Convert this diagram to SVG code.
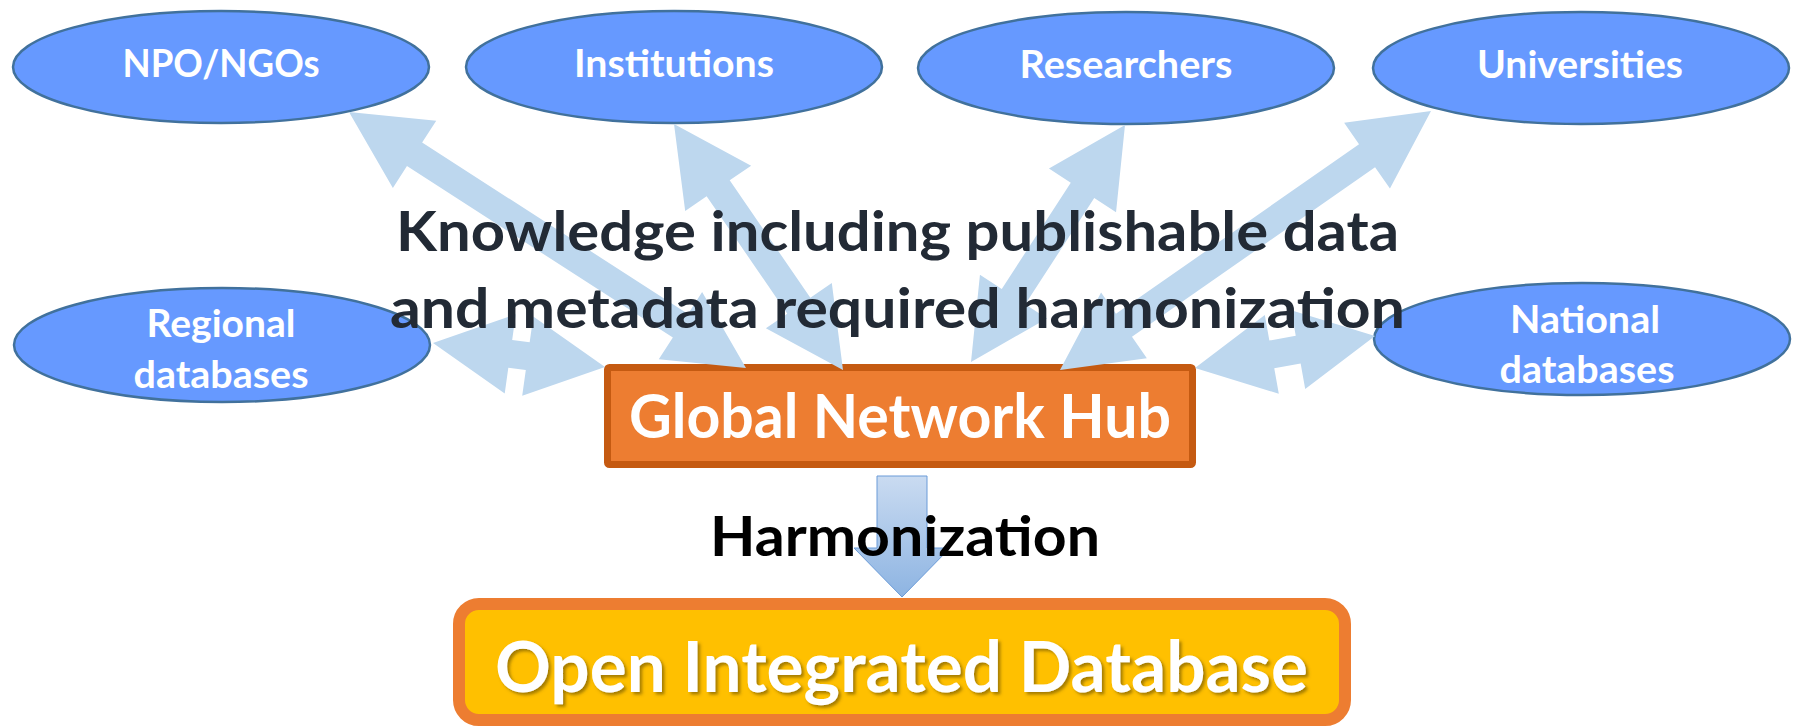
<svg xmlns="http://www.w3.org/2000/svg" width="1797" height="726" viewBox="0 0 1797 726">
  <defs>
    <linearGradient id="harmGrad" x1="0" y1="0" x2="0" y2="1">
      <stop offset="0" stop-color="#CADBF1"/>
      <stop offset="1" stop-color="#8DB4E2"/>
    </linearGradient>
    <filter id="textShadow" x="-5%" y="-20%" width="110%" height="150%">
      <feDropShadow dx="2.5" dy="2.5" stdDeviation="1.8" flood-color="#5a4300" flood-opacity="0.55"/>
    </filter>
  </defs>
  <style>
    .actor { fill: #6699FF; stroke: #41719C; stroke-width: 2.5; }
    .actor-label { font-family: Lato, "Noto Sans", "Liberation Sans", sans-serif; font-weight: 700; font-size: 38px; fill: #FFFFFF; text-anchor: middle; }
    .flow { fill: #BDD7EE; stroke: none; }
    .caption { font-family: Lato, "Noto Sans", "Liberation Sans", sans-serif; font-weight: 700; font-size: 55px; fill: #222A35; text-anchor: middle; }
    .hub-box { fill: #ED7D31; stroke: #C55A11; stroke-width: 7; }
    .hub-label { font-family: Lato, "Noto Sans", "Liberation Sans", sans-serif; font-weight: 700; font-size: 61px; fill: #FFFFFF; text-anchor: middle; }
    .db-box { fill: #FFC000; stroke: #ED7D31; stroke-width: 12; }
    .db-label { font-family: Lato, "Noto Sans", "Liberation Sans", sans-serif; font-weight: 700; font-size: 71px; fill: #FFFFFF; text-anchor: middle; }
    .step-label { font-family: Lato, "Noto Sans", "Liberation Sans", sans-serif; font-weight: 700; font-size: 56px; fill: #000000; text-anchor: middle; }
  </style>

  <rect width="1797" height="726" fill="#FFFFFF"/>

  <!-- data providers -->
  <g id="npo-ngos">
    <ellipse class="actor" cx="221" cy="67" rx="208" ry="56"/>
    <text class="actor-label" x="221" y="77" textLength="197" lengthAdjust="spacingAndGlyphs">NPO/NGOs</text>
  </g>
  <g id="institutions">
    <ellipse class="actor" cx="674" cy="67" rx="208" ry="56"/>
    <text class="actor-label" x="674" y="77" textLength="200" lengthAdjust="spacingAndGlyphs">Institutions</text>
  </g>
  <g id="researchers">
    <ellipse class="actor" cx="1126" cy="68" rx="208" ry="56"/>
    <text class="actor-label" x="1126" y="78" textLength="213" lengthAdjust="spacingAndGlyphs">Researchers</text>
  </g>
  <g id="universities">
    <ellipse class="actor" cx="1581" cy="68" rx="208" ry="56"/>
    <text class="actor-label" x="1580" y="78" textLength="206" lengthAdjust="spacingAndGlyphs">Universities</text>
  </g>
  <g id="regional-databases">
    <ellipse class="actor" cx="222" cy="345" rx="208" ry="57"/>
    <text class="actor-label" x="221" y="337" textLength="149" lengthAdjust="spacingAndGlyphs">Regional</text>
    <text class="actor-label" x="221" y="388" textLength="175" lengthAdjust="spacingAndGlyphs">databases</text>
  </g>
  <g id="national-databases">
    <ellipse class="actor" cx="1582" cy="339" rx="208" ry="56"/>
    <text class="actor-label" x="1585" y="333" textLength="150" lengthAdjust="spacingAndGlyphs">National</text>
    <text class="actor-label" x="1587" y="383" textLength="175" lengthAdjust="spacingAndGlyphs">databases</text>
  </g>

  <!-- hub -->
  <g id="global-network-hub">
    <rect class="hub-box" x="607.5" y="367.5" width="585" height="97" rx="2"/>
    <text class="hub-label" x="900" y="438" textLength="542" lengthAdjust="spacingAndGlyphs">Global Network Hub</text>
  </g>

  <!-- integrated database -->
  <g id="open-integrated-database">
    <rect class="db-box" x="459" y="604" width="886" height="116" rx="20"/>
    <text class="db-label" x="901.5" y="692" textLength="813" lengthAdjust="spacingAndGlyphs" filter="url(#textShadow)">Open Integrated Database</text>
  </g>

  <!-- two-way exchange arrows between providers and hub -->
  <g id="connectors">
    <polygon class="flow" points="349,112 392.87,187.89 406.96,166.04 672.86,337.50 658.77,359.35 746,368 702.13,292.11 688.04,313.96 422.14,142.50 436.23,120.65"/>
    <polygon class="flow" points="674,124 685.20,210.94 706.63,196.22 787.29,313.64 765.86,328.36 843,370 831.80,283.06 810.37,297.78 729.71,180.36 751.14,165.64"/>
    <polygon class="flow" points="1125,125 1048.96,168.60 1070.76,182.77 1001.76,288.97 979.96,274.80 971,362 1047.04,318.40 1025.24,304.23 1094.24,198.03 1116.04,212.20"/>
    <polygon class="flow" points="1431,111 1344.14,122.85 1359.03,144.17 1115.95,313.87 1101.06,292.55 1060,370 1146.86,358.15 1131.97,336.83 1375.05,167.13 1389.94,188.45"/>
    <polygon class="flow" points="433,343 504.72,393.40 508.32,367.65 525.82,370.09 522.22,395.84 605,367 533.28,316.60 529.68,342.35 512.18,339.91 515.78,314.16"/>
    <polygon class="flow" points="1375,336 1291.20,310.27 1295.75,335.87 1269.35,340.57 1264.80,314.97 1195,368 1278.80,393.73 1274.25,368.13 1300.65,363.43 1305.20,389.03"/>
    <!-- hub to database -->
    <polygon id="harmonization-arrow" points="877,476 927,476 927,548 950,548 902,597 854,548 877,548" fill="url(#harmGrad)" stroke="#6A9BD8" stroke-width="1"/>
  </g>

  <!-- captions -->
  <text class="caption" x="897.5" y="251" textLength="1003" lengthAdjust="spacingAndGlyphs">Knowledge including publishable data</text>
  <text class="caption" x="897.5" y="328" textLength="1015" lengthAdjust="spacingAndGlyphs">and metadata required harmonization</text>
  <text class="step-label" x="905" y="556" textLength="390" lengthAdjust="spacingAndGlyphs">Harmonization</text>
</svg>
